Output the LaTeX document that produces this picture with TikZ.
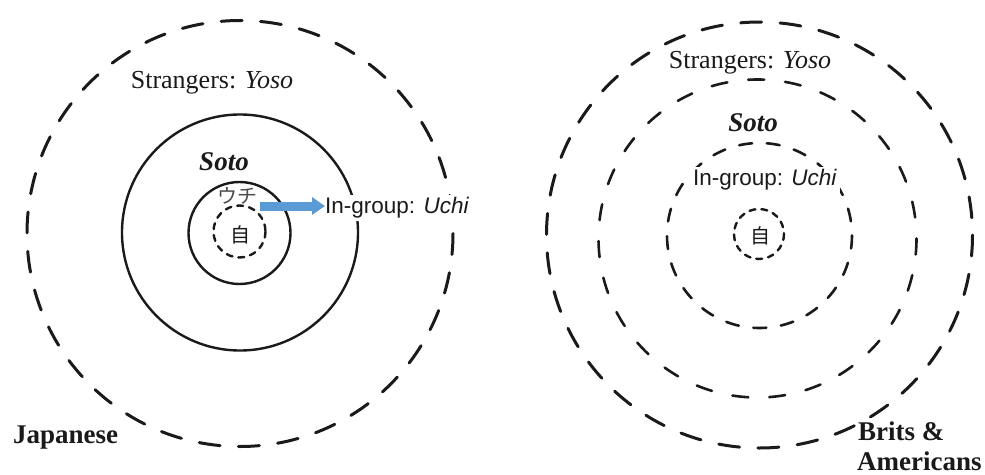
\documentclass[tikz,border=0pt]{standalone}
\usepackage{fontspec}
\setmainfont{Liberation Serif}
\newfontfamily\sansf{Liberation Sans}
\newfontfamily\jpf{Noto Sans CJK JP}
\usetikzlibrary{arrows.meta}
\definecolor{arrowblue}{HTML}{5B9BD5}
\definecolor{inkgray}{HTML}{1A1A1A}
\tikzset{
  ring/.style={draw=inkgray, line width=2.6pt, line cap=round},
  bigdash/.style={ring, line width=3pt, dash pattern=on 21pt off 18.4pt},
  middash/.style={ring, dash pattern=on 16pt off 21pt},
  smalldash/.style={ring, dash pattern=on 13pt off 14.7pt},
  tinydash/.style={ring, line width=2.4pt, dash pattern=on 6pt off 6pt},
  solidring/.style={draw=inkgray, line width=2.4pt},
  serifbig/.style={font=\fontsize{26}{30}\selectfont, text=inkgray, inner sep=0pt},
  seriflabel/.style={font=\fontsize{27}{35}\selectfont\bfseries, text=inkgray, inner sep=0pt},
  sotostyle/.style={font=\fontsize{27}{30}\selectfont\bfseries\itshape, text=inkgray, inner sep=0pt},
  sanslabel/.style={font=\sansf\fontsize{22.5}{24}\selectfont, text=inkgray, inner sep=0pt},
  kanji/.style={font=\jpf\fontsize{20}{22}\selectfont, text=inkgray, inner sep=0pt},
  blockarrow/.style={draw=arrowblue, line width=9pt, -{Triangle[length=13pt,width=17pt]}, shorten >=0pt}
}
\begin{document}
\begin{tikzpicture}[x=1pt,y=-1pt]
\useasboundingbox[fill=white] (0,0) rectangle (985,474);

% ---------- Left diagram (Japanese) ----------
\draw[bigdash] (240,233.5) circle[radius=213];
\draw[solidring] (240,232.5) circle[radius=118];
\draw[solidring] (239.5,233) circle[radius=51];
\draw[tinydash] (239.5,231.5) circle[radius=26];

\node[serifbig] (strL) at (212,83) {Strangers: \textit{Yoso}};
\node[sotostyle] (sotoL) at (224,162) {Soto};
\node[kanji, text=black!70] (uchiJP) at (237,196) {ウチ};
\node[kanji] (jiL) at (240,235) {自};
\node[sanslabel, anchor=west, fill=white, inner xsep=0pt, inner ysep=3pt] (ingL) at (325,208) {In-group: \textit{Uchi}};
\coordinate (arrowstart) at (260,206);
\draw[blockarrow] (arrowstart) -- (ingL.west |- arrowstart);
\node[seriflabel, anchor=base west] (jap) at (13,443) {Japanese};

% ---------- Right diagram (Brits & Americans) ----------
\draw[bigdash] (759.5,235) circle[radius=213];
\draw[middash] (757.5,238.5) circle[radius=159];
\draw[smalldash] (759.5,235.5) circle[radius=92.5];
\draw[tinydash] (759,234) circle[radius=25];

\node[serifbig] (strR) at (750,63) {Strangers: \textit{Yoso}};
\node[sotostyle] (sotoR) at (753,123) {Soto};
\node[sanslabel, fill=white, inner sep=3pt] (ingR) at (765,180) {In-group: \textit{Uchi}};
\node[kanji] (jiR) at (760,236) {自};
\node[seriflabel, anchor=base west] (brits) at (858,440) {Brits \&};
\node[seriflabel, anchor=base west] (amer) at (857,470) {Americans};
\end{tikzpicture}
\end{document}
